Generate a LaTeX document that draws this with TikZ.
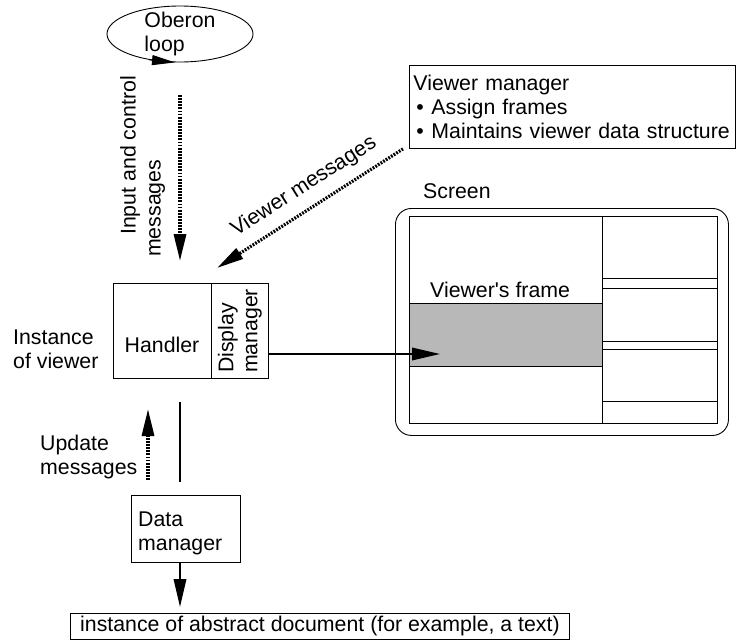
\documentclass[tikz,border=0pt]{standalone}
\usepackage{fontspec}
\setmainfont{Liberation Sans}
\usetikzlibrary{shapes.geometric,arrows.meta,calc}
\begin{document}
\begin{tikzpicture}[x=1pt,y=-1pt,
  every node/.style={font=\fontsize{21.3}{24}\selectfont},
  box/.style={draw, line width=0.9pt, inner sep=0pt},
  txt/.style={inner sep=0pt, align=left},
  thinline/.style={line width=0.9pt},
  arr/.style={line width=1.8pt, -{Triangle[length=28pt,width=12.5pt]}},
  dotarr/.style={line width=3.2pt, dash pattern=on 1.8pt off 1.3pt, -{Triangle[length=27pt,width=12pt]}}]
\useasboundingbox (0,0) rectangle (736,640);

% Oberon loop
\node[ellipse, box, minimum width=146pt, minimum height=56pt] (ob) at (180,34) {};
\node[txt] (obt) at (ob.center) {Oberon\\loop};
\draw[line width=1pt, -{Triangle[length=23pt,width=10pt]}] (ob.-140) -- (ob.-100);

% input and control messages
\coordinate (inA) at (180,95);
\coordinate (inB) at (180,261);
\draw[dotarr] (inA) -- (inB);
\node[txt, rotate=90, anchor=west] (inl1) at (130,235) {Input and control};
\node[txt, rotate=90, anchor=west] (inl2) at (157,257) {messages};

% viewer instance
\node[box, minimum width=98pt, minimum height=95pt, anchor=north west] (hand) at (113,283) {};
\node[txt, anchor=base] (handt) at (162,352) {Handler};
\node[box, minimum width=57pt, minimum height=95pt, anchor=north west] (disp) at (211,283) {};
\node[txt, rotate=90] (dispt) at (disp.center) {Display\\manager};
\node[txt, anchor=north west] (inst) at (13,330) {Instance\\of viewer};

% viewer manager
\node[box, anchor=north west, minimum width=326pt, minimum height=83pt, text width=324pt, inner xsep=1pt, align=left] (vm) at (409,65)
  {\hspace*{3pt}Viewer manager\\ \hspace*{6pt}\makebox[15pt][l]{\textbullet}Assign frames\\ \hspace*{6pt}\makebox[15pt][l]{\textbullet}Maintains viewer data structure};
\coordinate (vmB) at (217,268);
\draw[dotarr] ([xshift=-6pt]vm.south west) -- node[sloped, above=10pt, pos=0.47, inner sep=0pt] (vmlab) {Viewer messages} (vmB);

% screen
\node[draw, thinline, rounded corners=16pt, minimum width=333pt, minimum height=227pt, anchor=north west] (scr) at (395,208) {};
\node[txt, anchor=base west] (scrl) at (423,198) {Screen};
\node[box, minimum width=308pt, minimum height=207pt, anchor=north west] (inner) at (409,216) {};
\node[box, fill=black!28, minimum width=193pt, minimum height=63pt, anchor=north west] (vf) at (409,303) {};
\node[txt, anchor=base west] (vfl) at (430,297) {Viewer\textquotesingle s frame};
\draw[thinline] (602,216) -- (602,423);
\foreach \y in {278,288,341,349,401} \draw[thinline] (602,\y) -- (717,\y);

\coordinate (vfA) at (440,354);
\draw[arr] (disp.east |- vfA) -- (vfA);

% lower part
\coordinate (lnA) at (180,402);
\coordinate (lnB) at (180,482);
\draw[line width=1.5pt] (lnA) -- (lnB);
\coordinate (upA) at (148,480);
\coordinate (upB) at (148,409);
\draw[dotarr] (upA) -- (upB);
\node[txt, anchor=north west] (upl) at (40,435) {Update\\messages};
\node[box, anchor=north west, minimum width=109pt, minimum height=67pt] (dm) at (131,495) {};
\node[txt, anchor=north west] (dml) at (138,512) {Data\\manager};
\node[box, anchor=north west, minimum width=499pt, minimum height=26pt] (doc) at (70,613) {instance of abstract document (for example, a text)};
\draw[arr, shorten >=6pt] (dm.south -| lnA) -- (doc.north -| lnA);
\end{tikzpicture}
\end{document}
